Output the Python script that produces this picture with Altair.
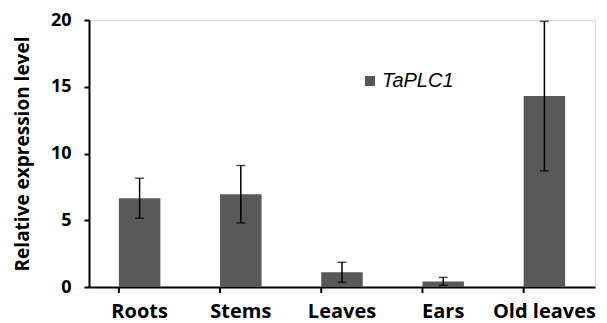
import altair as alt
import pandas as pd

categories = ["Roots", "Stems", "Leaves", "Ears", "Old leaves"]
values = [6.65, 6.95, 1.1, 0.42, 14.3]
errors = [1.5, 2.15, 0.75, 0.3, 5.6]
series = ["TaPLC1"] * 5

df = pd.DataFrame({"cat": categories, "val": values, "err": errors, "series": series})

W, H = 506, 267
BAR = "#595959"
LBL_FONT = "Open Sans"

xenc = alt.X("cat:N", sort=categories, scale=alt.Scale(paddingInner=0.59, paddingOuter=0.295),
             axis=alt.Axis(title=None, labelAngle=0, labelFont=LBL_FONT, labelFontSize=20,
                           labelFontWeight="bold", labelColor="black", labelPadding=14,
                           ticks=False, domainColor="black", domainWidth=2))
yscale = alt.Scale(domain=[0, 20], nice=False)

bars = alt.Chart(df).mark_bar(color=BAR).encode(
    x=xenc,
    y=alt.Y("val:Q", scale=yscale,
            axis=alt.Axis(title="Relative expression level", values=[0, 5, 10, 15, 20],
                          grid=False, labelFont=LBL_FONT, labelFontSize=18, labelFontWeight="bold",
                          labelColor="black", labelPadding=13, tickSize=5, tickColor="black",
                          tickWidth=2, domainColor="black", domainWidth=2,
                          titleFont=LBL_FONT, titleFontSize=19, titleFontWeight="bold",
                          titleColor="black", titlePadding=18)),
    color=alt.Color("series:N", scale=alt.Scale(range=[BAR]),
                    legend=alt.Legend(title=None, orient="none", legendX=271, legendY=51,
                                      symbolType="square", symbolSize=100, symbolStrokeWidth=0,
                                      labelFont="Liberation Sans", labelFontStyle="italic",
                                      labelFontSize=20, labelColor="black", labelOffset=2)),
)

base = alt.Chart(df).transform_calculate(lo="datum.val - datum.err", hi="datum.val + datum.err")

err_line = base.mark_rule(color="black", strokeWidth=1.5).encode(
    x=alt.X("cat:N", sort=categories), y=alt.Y("lo:Q", scale=yscale), y2="hi:Q")
cap_hi = base.mark_tick(color="black", thickness=1.5, size=9).encode(
    x=alt.X("cat:N", sort=categories), y=alt.Y("hi:Q", scale=yscale))
cap_lo = base.mark_tick(color="black", thickness=1.5, size=9).encode(
    x=alt.X("cat:N", sort=categories), y=alt.Y("lo:Q", scale=yscale))

xticks = alt.Chart(df).mark_rule(color="black", strokeWidth=2).encode(
    x=alt.X("cat:N", sort=categories, bandPosition=0),
    y=alt.value(H), y2=alt.value(H + 6))

chart = alt.layer(bars, err_line, cap_hi, cap_lo, xticks).properties(
    width=W, height=H,
    autosize=alt.AutoSizeParams(type="none"),
    padding={"left": 81, "top": 12, "right": 4, "bottom": 36},
).configure_view(stroke=None).configure(background="white")

chart.save("out.html", embed_options={"renderer": "svg", "actions": False})
